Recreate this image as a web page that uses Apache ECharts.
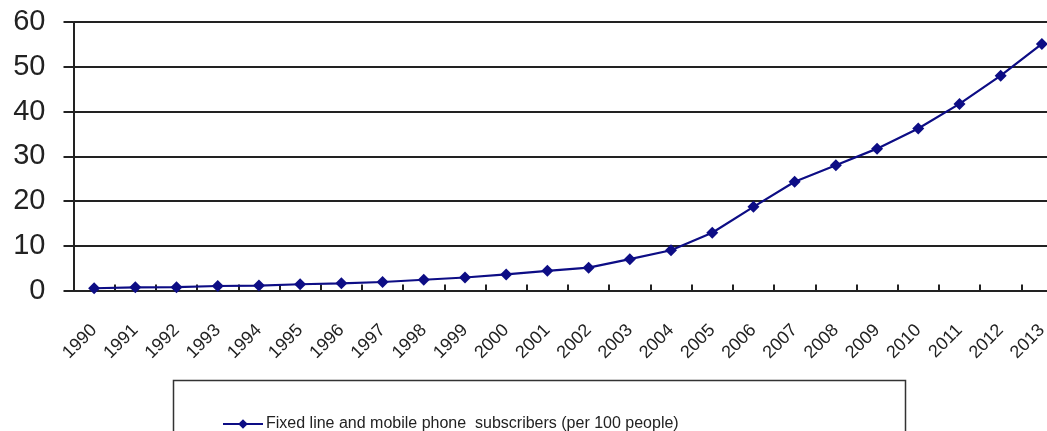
<!DOCTYPE html>
<html>
<head>
<meta charset="utf-8">
<script src="https://cdn.jsdelivr.net/npm/echarts@6/dist/echarts.min.js"></script>
<style>
html,body{margin:0;padding:0;background:#fff;overflow:hidden;}
#chart{width:1064px;height:431px;}
</style>
</head>
<body>
<div id="chart"></div>
<script>
const years = ['1990','1991','1992','1993','1994','1995','1996','1997','1998','1999','2000','2001','2002','2003','2004','2005','2006','2007','2008','2009','2010','2011','2012','2013'];
const subscribers = [0.5,0.7,0.75,1.0,1.1,1.4,1.6,1.9,2.4,2.9,3.6,4.4,5.1,7.0,9.0,12.9,18.7,24.3,28.0,31.7,36.2,41.7,48.0,55.1];
const seriesName = 'Fixed line and mobile phone  subscribers (per 100 people)';
const yTicks = {min: 0, max: 60, interval: 10};

const chart = echarts.init(document.getElementById('chart'), null, {renderer: 'canvas'});
chart.setOption({
  animation: false,
  backgroundColor: '#fff',
  textStyle: {fontFamily: 'Liberation Sans, Arial, sans-serif'},
  grid: {left: 73.5, right: 1.5, top: 22, bottom: 140.5, containLabel: false},
  graphic: [{
    type: 'rect',
    shape: {x: 173.5, y: 380.5, width: 732, height: 80},
    style: {fill: '#fff', stroke: '#333', lineWidth: 1.5},
    z: 0
  }],
  legend: {
    left: 217, top: 411,
    itemWidth: 40, itemHeight: 12, itemGap: 10,
    textStyle: {fontSize: 16, color: '#222', fontFamily: 'Liberation Sans, Arial, sans-serif', padding: [0, 0, 0, -2]},
    data: [seriesName],
    z: 5
  },
  xAxis: {
    type: 'category',
    data: years,
    boundaryGap: true,
    axisLine: {show: true, lineStyle: {color: '#222', width: 2}},
    axisTick: {show: true, inside: true, length: 6, lineStyle: {color: '#222', width: 2}},
    axisLabel: {rotate: 45, margin: 37, fontSize: 18, color: '#222', interval: 0},
    splitLine: {show: false}
  },
  yAxis: {
    type: 'value',
    min: yTicks.min, max: yTicks.max, interval: yTicks.interval,
    axisLine: {show: true, lineStyle: {color: '#222', width: 2}},
    axisTick: {show: true, inside: false, length: 10, lineStyle: {color: '#222', width: 2}},
    axisLabel: {fontSize: 29, color: '#222', margin: 28},
    splitLine: {show: true, lineStyle: {color: '#222', width: 2}}
  },
  series: [{
    name: seriesName,
    type: 'line',
    data: subscribers,
    symbol: 'diamond',
    symbolSize: 12,
    showAllSymbol: true,
    lineStyle: {color: '#0d0d85', width: 2.2},
    itemStyle: {color: '#0d0d85'},
    z: 3
  }]
});
</script>
</body>
</html>
